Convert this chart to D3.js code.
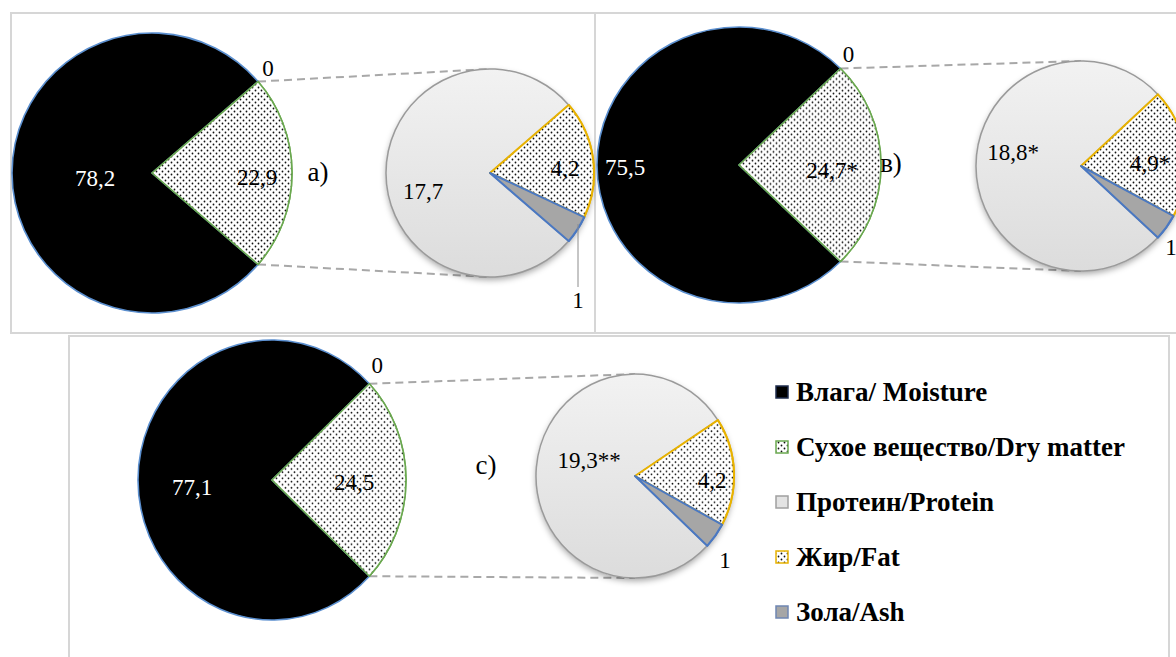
<!DOCTYPE html>
<html>
<head>
<meta charset="utf-8">
<script src="https://cdn.jsdelivr.net/npm/d3@7"></script>
<style>
  body { margin: 0; background: #fff; }
  svg { display: block; }
</style>
</head>
<body>
<svg id="chart" width="1176" height="657"></svg>
<script>
// Composition of three samples: moisture vs dry matter, with the dry matter
// broken down into protein, fat and ash (pie-of-pie layout).
const panelTags      = ["a)", "в)", "c)"];
const moisture       = [78.2, 75.5, 77.1];
const dryMatter      = [22.9, 24.7, 24.5];
const protein        = [17.7, 18.8, 19.3];
const fat            = [4.2, 4.9, 4.2];
const ash            = [1, 1, 1];
const moistureLabels = ["78,2", "75,5", "77,1"];
const dryLabels      = ["22,9", "24,7*", "24,5"];
const proteinLabels  = ["17,7", "18,8*", "19,3**"];
const fatLabels      = ["4,2", "4,9*", "4,2"];
const ashLabels      = ["1", "1", "1"];
const zeroLabel      = "0";
const legendNames    = ["Влага/ Moisture", "Сухое вещество/Dry matter", "Протеин/Protein", "Жир/Fat", "Зола/Ash"];

const FONT = "'Liberation Serif', 'Times New Roman', Tinos, 'DejaVu Serif', 'Noto Serif', serif";

// Geometry of each panel (frame box, pie centres/radii, label offsets)
const layout = [
  {
    frame: [11, 13, 584, 320],
    big:   { cx: 152, cy: 173, rx: 140, ry: 140 },
    small: { cx: 490, cy: 173, rx: 104, ry: 104, rot: 0 },
    tag: [318, 172],
    off: { moist: [-57, 5], dry: [105, 4], zero: [10, -14],
           prot: [-67, 18], fat: [75, -5], ash: [88, 127] },
    leader: [51, 114]
  },
  {
    frame: [595, 13, 600, 320],
    big:   { cx: 739, cy: 165, rx: 142, ry: 138 },
    small: { cx: 1081, cy: 166, rx: 105, ry: 105, rot: 0 },
    tag: [891, 163],
    off: { moist: [-114, 2], dry: [93, 5], zero: [8, -15],
           prot: [-68, -14], fat: [69, -3], ash: [90, 81] },
    leader: null
  },
  {
    frame: [69, 336, 1100, 330],
    big:   { cx: 272, cy: 480, rx: 134, ry: 140 },
    small: { cx: 635, cy: 476, rx: 99, ry: 102, rot: 5 },
    tag: [486, 465],
    off: { moist: [-80, 7], dry: [82, 2], zero: [8, -19],
           prot: [-46, -16], fat: [77, 4], ash: [90, 84] },
    leader: null
  }
];

const svg = d3.select("#chart");
const defs = svg.append("defs");

// Dotted fill used for dry matter and fat
const dots = defs.append("pattern")
  .attr("id", "dots").attr("patternUnits", "userSpaceOnUse")
  .attr("width", 6).attr("height", 6);
dots.append("rect").attr("width", 6).attr("height", 6).attr("fill", "#fff");
dots.append("circle").attr("cx", 1.5).attr("cy", 1.5).attr("r", 0.9).attr("fill", "#111");
dots.append("circle").attr("cx", 4.5).attr("cy", 4.5).attr("r", 0.9).attr("fill", "#111");

// Soft shading of the protein pie
const grad = defs.append("linearGradient")
  .attr("id", "protGrad").attr("x1", 0).attr("y1", 0).attr("x2", 0).attr("y2", 1);
grad.append("stop").attr("offset", "0%").attr("stop-color", "#f2f2f2");
grad.append("stop").attr("offset", "100%").attr("stop-color", "#dcdcdc");

const shadow = defs.append("filter").attr("id", "shadow")
  .attr("x", "-20%").attr("y", "-20%").attr("width", "140%").attr("height", "150%");
shadow.append("feDropShadow").attr("dx", 0).attr("dy", 3)
  .attr("stdDeviation", 3).attr("flood-color", "#000").attr("flood-opacity", 0.35);

const colors = {
  moist: "#000000", moistStroke: "#5b8fcf",
  dryStroke: "#6aa84f",
  prot: "url(#protGrad)", protStroke: "#9a9a9a",
  fatStroke: "#e8b200",
  ash: "#a6a6a6", ashStroke: "#4a78c2",
  frame: "#d6d6d6", dash: "#a8a8a8"
};

// Panel frames
layout.forEach(L => {
  svg.append("rect")
    .attr("x", L.frame[0]).attr("y", L.frame[1])
    .attr("width", L.frame[2]).attr("height", L.frame[3])
    .attr("fill", "none").attr("stroke", colors.frame).attr("stroke-width", 2);
});

const TAU = Math.PI * 2;
// Point on an ellipse for a d3 angle (0 = 12 o'clock, clockwise)
const pt = (p, a) => [p.cx + p.rx * Math.sin(a), p.cy - p.ry * Math.cos(a)];

function pieGroup(p) {
  return svg.append("g")
    .attr("transform", `translate(${p.cx},${p.cy}) scale(1,${p.ry / p.rx})`);
}

function label(x, y, txt, size, fill) {
  svg.append("text")
    .attr("x", x).attr("y", y).attr("dy", "0.35em")
    .attr("text-anchor", "middle")
    .attr("font-family", FONT)
    .attr("font-size", size).attr("fill", fill || "#000")
    .text(txt);
}

layout.forEach((L, i) => {
  const B = L.big, S = L.small;

  // ---- main pie: dry matter wedge centred on 3 o'clock ----
  const bigVals = [
    { key: "dry", v: dryMatter[i] },
    { key: "moist", v: moisture[i] }
  ];
  const dryShare = dryMatter[i] / (dryMatter[i] + moisture[i]);
  const bigStart = Math.PI / 2 - dryShare * Math.PI;
  const bigPie = d3.pie().sort(null).value(d => d.v)
    .startAngle(bigStart).endAngle(bigStart + TAU);
  const bigArcs = bigPie(bigVals);
  const bigArc = d3.arc().innerRadius(0).outerRadius(B.rx);

  // ---- secondary pie: fat + ash wedge centred on 3 o'clock ----
  const smallVals = [
    { key: "fat", v: fat[i] },
    { key: "ash", v: ash[i] },
    { key: "prot", v: protein[i] }
  ];
  const smallTotal = fat[i] + ash[i] + protein[i];
  const rot = S.rot * Math.PI / 180;
  const smallStart = Math.PI / 2 - ((fat[i] + ash[i]) / smallTotal) * Math.PI + rot;
  const smallPie = d3.pie().sort(null).value(d => d.v)
    .startAngle(smallStart).endAngle(smallStart + TAU);
  const smallArcs = smallPie(smallVals);
  const smallArc = d3.arc().innerRadius(0).outerRadius(S.rx);

  // connector lines from the dry-matter wedge to the secondary pie
  const dryArc = bigArcs[0];
  const cTop = pt(B, dryArc.startAngle);
  const cBot = pt(B, dryArc.endAngle);
  [[cTop, S.cy - S.ry], [cBot, S.cy + S.ry]].forEach(([c, y2]) => {
    svg.append("line")
      .attr("x1", c[0]).attr("y1", c[1])
      .attr("x2", S.cx).attr("y2", y2)
      .attr("stroke", colors.dash).attr("stroke-width", 2).attr("stroke-dasharray", "8,5");
  });

  // main pie
  const gb = pieGroup(B);
  gb.selectAll("path").data(bigArcs).join("path")
    .attr("d", bigArc)
    .attr("fill", d => d.data.key === "moist" ? colors.moist : "url(#dots)")
    .attr("stroke", d => d.data.key === "moist" ? colors.moistStroke : colors.dryStroke)
    .attr("stroke-width", 1.6)
    .attr("stroke-linejoin", "round")
    .attr("vector-effect", "non-scaling-stroke");
  // redraw dry wedge on top so its green edge is visible
  gb.append("path").attr("d", bigArc(bigArcs[0]))
    .attr("fill", "url(#dots)").attr("stroke", colors.dryStroke)
    .attr("stroke-width", 1.6).attr("vector-effect", "non-scaling-stroke");

  // secondary pie
  const gs = pieGroup(S);
  gs.append("ellipse").attr("rx", S.rx).attr("ry", S.rx)
    .attr("fill", "#ddd").attr("filter", "url(#shadow)");
  gs.selectAll("path.s").data(smallArcs).join("path")
    .attr("class", "s")
    .attr("d", smallArc)
    .attr("fill", d => d.data.key === "prot" ? colors.prot : d.data.key === "fat" ? "url(#dots)" : colors.ash)
    .attr("stroke", d => d.data.key === "prot" ? colors.protStroke : d.data.key === "fat" ? colors.fatStroke : colors.ashStroke)
    .attr("stroke-width", d => d.data.key === "prot" ? 1.5 : 2)
    .attr("stroke-linejoin", "round")
    .attr("vector-effect", "non-scaling-stroke");
  // keep the coloured wedge edges above the protein outline
  smallArcs.filter(d => d.data.key !== "prot").forEach(d => {
    gs.append("path").attr("d", smallArc(d))
      .attr("fill", d.data.key === "fat" ? "url(#dots)" : colors.ash)
      .attr("stroke", d.data.key === "fat" ? colors.fatStroke : colors.ashStroke)
      .attr("stroke-width", 2).attr("stroke-linejoin", "round")
      .attr("vector-effect", "non-scaling-stroke");
  });

  // ash leader line
  if (L.leader) {
    svg.append("line")
      .attr("x1", S.cx + L.off.ash[0]).attr("y1", S.cy + L.leader[0])
      .attr("x2", S.cx + L.off.ash[0]).attr("y2", S.cy + L.leader[1])
      .attr("stroke", "#8c8c8c").attr("stroke-width", 1);
  }

  // data labels
  const o = L.off;
  label(B.cx + o.moist[0], B.cy + o.moist[1], moistureLabels[i], 23, "#fff");
  label(B.cx + o.dry[0], B.cy + o.dry[1], dryLabels[i], 23);
  label(cTop[0] + o.zero[0], cTop[1] + o.zero[1], zeroLabel, 23);
  label(S.cx + o.prot[0], S.cy + o.prot[1], proteinLabels[i], 23);
  label(S.cx + o.fat[0], S.cy + o.fat[1], fatLabels[i], 23);
  label(S.cx + o.ash[0], S.cy + o.ash[1], ashLabels[i], 23);
  label(L.tag[0], L.tag[1], panelTags[i], 27);
});

// Legend
const legendFill = ["#000", "url(#dots)", "#e3e3e3", "url(#dots)", "#a6a6a6"];
const legendStroke = ["#1f2d4d", colors.dryStroke, "#a0a0a0", colors.fatStroke, "#6f86b3"];
const legendY = d3.scalePoint().domain(legendNames).range([392, 612]);
const lg = svg.append("g");
legendNames.forEach((name, k) => {
  const y = legendY(name);
  lg.append("rect").attr("x", 776).attr("y", y - 6).attr("width", 12).attr("height", 12)
    .attr("fill", legendFill[k]).attr("stroke", legendStroke[k]).attr("stroke-width", 1.5);
  lg.append("text").attr("x", 796).attr("y", y).attr("dy", "0.35em")
    .attr("font-family", FONT)
    .attr("font-size", 27).attr("font-weight", "bold").attr("fill", "#000")
    .text(name);
});
</script>
</body>
</html>
